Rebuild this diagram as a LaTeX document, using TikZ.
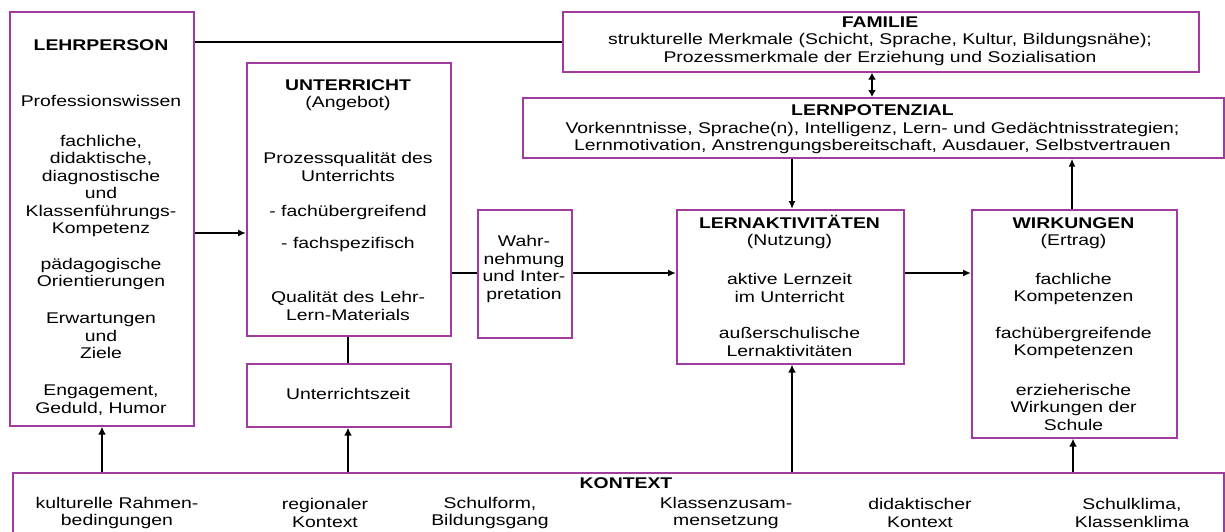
\documentclass[tikz,border=0pt]{standalone}
\usepackage{fontspec}
\setmainfont[FakeStretch=1.25]{Liberation Sans}
\usetikzlibrary{arrows.meta}
\definecolor{boxc}{RGB}{160,60,160}
\begin{document}
\begin{tikzpicture}[x=1pt,y=-1pt,
  box/.style={draw=boxc,line width=1.7pt,inner sep=0pt,anchor=north west},
  txt/.style={align=center,font=\fontsize{15.5}{17.5}\selectfont,inner sep=0pt},
  ttl/.style={txt,font=\fontsize{15.5}{17.5}\selectfont\bfseries},
  conn/.style={line width=1.7pt},
  arr/.style={line width=1.7pt,-{Latex[length=8pt,width=7pt]}},
  darr/.style={line width=2.4pt,{Latex[length=7pt,width=8pt]}-{Latex[length=7pt,width=8pt]}},
  tconn/.style={line width=2.8pt},
  tarr/.style={line width=2.8pt,-{Latex[length=8pt,width=8pt]}}]
\useasboundingbox (0,0) rectangle (1225,531);
\fill[white] (0,0) rectangle (1225,531);
\clip (0,0) rectangle (1225,531);

% boxes
\node[box,minimum width=184pt,minimum height=414pt] (lehr) at (9,11) {};
\node[box,minimum width=204pt,minimum height=273pt] (unt) at (246,62) {};
\node[box,minimum width=204pt,minimum height=63pt] (uzeit) at (246,363) {};
\node[box,minimum width=94pt,minimum height=128pt] (wahr) at (477,209) {};
\node[box,minimum width=636pt,minimum height=60pt] (fam) at (562,11) {};
\node[box,minimum width=701pt,minimum height=60pt] (lpot) at (522,97) {};
\node[box,minimum width=227pt,minimum height=154pt] (lakt) at (676,209) {};
\node[box,minimum width=205pt,minimum height=228pt] (wirk) at (971,209) {};
\node[box,minimum width=1211pt,minimum height=75pt] (kon) at (12,472) {};

% LEHRPERSON texts
\node[ttl] (t-lehr) at (101,45) {LEHRPERSON};
\node[txt] (t-lehr1) at (101,101) {Professionswissen};
\node[txt] (t-lehr2) at (101,186) {fachliche,\\didaktische,\\diagnostische\\und\\Klassenführungs-\\Kompetenz};
\node[txt] (t-lehr3) at (101,274) {pädagogische\\Orientierungen};
\node[txt] (t-lehr4) at (101,336) {Erwartungen\\und\\Ziele};
\node[txt] (t-lehr5) at (101,400) {Engagement,\\Geduld, Humor};

% UNTERRICHT texts
\node[txt] (t-unt) at (348,95) {\textbf{UNTERRICHT}\\(Angebot)};
\node[txt] (t-unt1) at (348,167) {Prozessqualität des\\Unterrichts};
\node[txt] (t-unt2) at (348,212) {- fachübergreifend};
\node[txt] (t-unt3) at (348,244) {- fachspezifisch};
\node[txt] (t-unt4) at (348,306) {Qualität des Lehr-\\Lern-Materials};
\node[txt] (t-uzeit) at (348,394) {Unterrichtszeit};

% Wahrnehmung
\node[txt] (t-wahr) at (524,269) {Wahr-\\nehmung\\und Inter-\\pretation};

% FAMILIE and LERNPOTENZIAL
\node[txt] (t-fam) at (880,41) {\textbf{FAMILIE}\\strukturelle Merkmale (Schicht, Sprache, Kultur, Bildungsnähe);\\Prozessmerkmale der Erziehung und Sozialisation};
\node[txt] (t-lpot) at (872.5,129.5) {\textbf{LERNPOTENZIAL}\\Vorkenntnisse, Sprache(n), Intelligenz, Lern- und Gedächtnisstrategien;\\Lernmotivation, Anstrengungsbereitschaft, Ausdauer, Selbstvertrauen};

% LERNAKTIVITÄTEN
\node[txt] (t-lakt) at (789.5,232) {\textbf{LERNAKTIVITÄTEN}\\(Nutzung)};
\node[txt] (t-lakt1) at (789.5,288) {aktive Lernzeit\\im Unterricht};
\node[txt] (t-lakt2) at (789.5,342) {außerschulische\\Lernaktivitäten};

% WIRKUNGEN
\node[txt] (t-wirk) at (1073.5,233) {\textbf{WIRKUNGEN}\\(Ertrag)};
\node[txt] (t-wirk1) at (1073.5,289) {fachliche\\Kompetenzen};
\node[txt] (t-wirk2) at (1073.5,343) {fachübergreifende\\Kompetenzen};
\node[txt] (t-wirk3) at (1073.5,407) {erzieherische\\Wirkungen der\\Schule};

% KONTEXT
\node[ttl] (t-kon) at (626,483) {KONTEXT};
\node[txt] (k1) at (117,513) {kulturelle Rahmen-\\bedingungen};
\node[txt] (k2) at (325,513) {regionaler\\Kontext};
\node[txt] (k3) at (490,513) {Schulform,\\Bildungsgang};
\node[txt] (k4) at (726,513) {Klassenzusam-\\mensetzung};
\node[txt] (k5) at (920,513) {didaktischer\\Kontext};
\node[txt] (k6) at (1132,513) {Schulklima,\\Klassenklima};

% connectors
\draw[conn] (lehr.east |- 0,42) -- (fam.west |- 0,42);
\draw[arr] (lehr.east |- 0,233) -- (unt.west |- 0,233);
\draw[conn] (unt.east |- 0,273) -- (wahr.west |- 0,273);
\draw[arr] (wahr.east |- 0,273) -- (lakt.west |- 0,273);
\draw[arr] (lakt.east |- 0,273) -- (wirk.west |- 0,273);
\draw[darr] (fam.south -| 872,0) -- (lpot.north -| 872,0);
\draw[arr] (lpot.south -| 792,0) -- (lakt.north -| 792,0);
\draw[arr] (wirk.north -| 1072,0) -- (lpot.south -| 1072,0);
\draw[tconn] (unt.south -| 348,0) -- (uzeit.north -| 348,0);
\draw[tarr] (kon.north -| 102,0) -- (lehr.south -| 102,0);
\draw[tarr] (kon.north -| 348,0) -- (uzeit.south -| 348,0);
\draw[tarr] (kon.north -| 792,0) -- (lakt.south -| 792,0);
\draw[tarr] (kon.north -| 1073,0) -- (wirk.south -| 1073,0);
\end{tikzpicture}
\end{document}
